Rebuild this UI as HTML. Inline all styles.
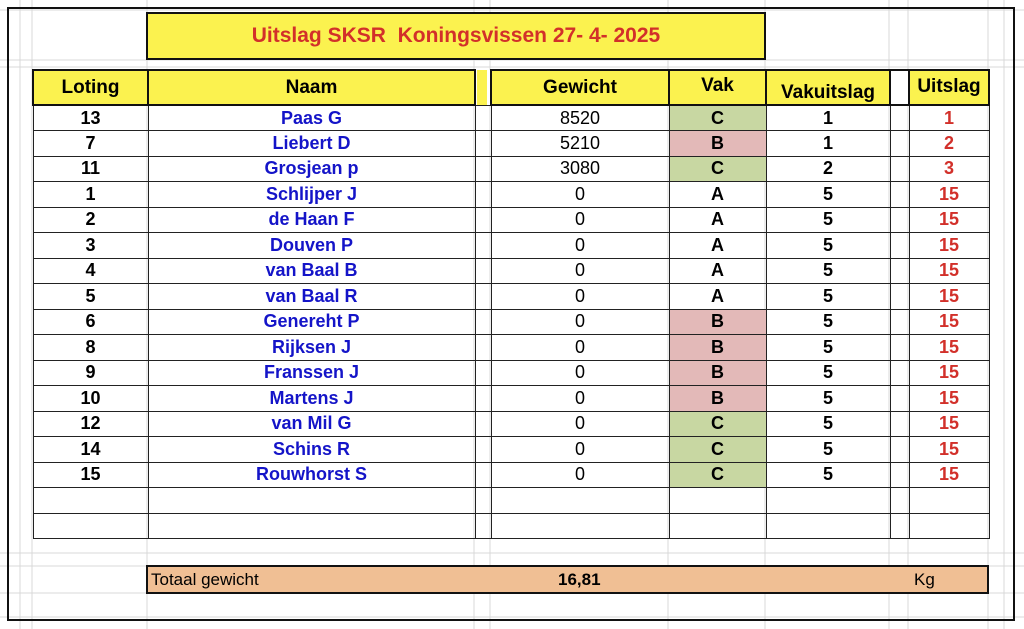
<!DOCTYPE html>
<html><head><meta charset="utf-8"><style>
*{margin:0;padding:0;box-sizing:border-box}
body{width:1024px;height:629px;background:#fff;position:relative;overflow:hidden;font-family:"Liberation Sans",Arial,sans-serif}
.bg{position:absolute;left:0;top:0;width:1024px;height:629px}
.frame{position:absolute;left:7px;top:7px;width:1008px;height:614px;border:2.5px solid #111}
.title{position:absolute;left:146px;top:12px;width:620px;height:48px;background:#fbf24f;border:2.5px solid #111;color:#d2302a;font-weight:bold;font-size:21px;text-align:center;line-height:44px}
table{position:absolute;left:32px;top:69px;border-collapse:collapse;table-layout:fixed;width:956px}
td{border:1px solid #222;height:25.5px;text-align:center;font-weight:bold;font-size:18px;padding:0;line-height:23px;white-space:nowrap}
tr.h td{height:35px;background:#fbf24f;border:2.5px solid #111;font-size:19px;line-height:22px;vertical-align:middle}
tr.h td span{position:relative}
tr.h td.g{background:#fff;border:1px solid #222;border-top:2.5px solid #111;border-bottom:2.5px solid #111}
tr.h td.g1{background:linear-gradient(90deg,#fff 0 1px,#fbf24f 1px 11px,#fff 11px);border-top:none;border-bottom:none}
.n{color:#1414c8}
.w{font-weight:normal}
.r{color:#d2302a}
.C{background:#c8d7a2}
.B{background:#e3b9b8}
.tot{position:absolute;left:146px;top:565px;width:843px;height:29px;background:#f0bf94;border:2.5px solid #111;font-size:17px;line-height:25px}
.tot span{position:absolute}
</style></head><body>
<svg class="bg" width="1024" height="629">
<g stroke="#d8d8d8" stroke-width="1">
<line x1="20" y1="0" x2="20" y2="629"/><line x1="32" y1="0" x2="32" y2="629"/><line x1="147" y1="0" x2="147" y2="629"/>
<line x1="474" y1="0" x2="474" y2="629"/><line x1="490" y1="0" x2="490" y2="629"/><line x1="668" y1="0" x2="668" y2="629"/>
<line x1="765" y1="0" x2="765" y2="629"/><line x1="889" y1="0" x2="889" y2="629"/><line x1="908" y1="0" x2="908" y2="629"/>
<line x1="988" y1="0" x2="988" y2="629"/><line x1="1004" y1="0" x2="1004" y2="629"/>
<line x1="0" y1="10" x2="1024" y2="10"/><line x1="0" y1="60" x2="1024" y2="60"/><line x1="0" y1="67" x2="1024" y2="67"/>
<line x1="0" y1="566" x2="1024" y2="566"/><line x1="0" y1="593" x2="1024" y2="593"/><line x1="0" y1="553" x2="1024" y2="553"/><line x1="0" y1="617" x2="1024" y2="617"/>
</g></svg>
<div class="frame"></div>
<div class="title">Uitslag SKSR&nbsp; Koningsvissen 27- 4- 2025</div>
<table>
<colgroup><col style="width:115px"><col style="width:327px"><col style="width:16px"><col style="width:178px"><col style="width:97px"><col style="width:124px"><col style="width:19px"><col style="width:80px"></colgroup>
<tr class="h"><td><span>Loting</span></td><td><span>Naam</span></td><td class="g g1"></td><td><span>Gewicht</span></td><td><span style="top:-2px">Vak</span></td><td><span style="top:5px">Vakuitslag</span></td><td class="g"></td><td><span style="top:-1px">Uitslag</span></td></tr>
<tr><td>13</td><td class="n">Paas G</td><td></td><td class="w">8520</td><td class="C">C</td><td>1</td><td></td><td class="r">1</td></tr>
<tr><td>7</td><td class="n">Liebert D</td><td></td><td class="w">5210</td><td class="B">B</td><td>1</td><td></td><td class="r">2</td></tr>
<tr><td>11</td><td class="n">Grosjean p</td><td></td><td class="w">3080</td><td class="C">C</td><td>2</td><td></td><td class="r">3</td></tr>
<tr><td>1</td><td class="n">Schlijper J</td><td></td><td class="w">0</td><td>A</td><td>5</td><td></td><td class="r">15</td></tr>
<tr><td>2</td><td class="n">de Haan F</td><td></td><td class="w">0</td><td>A</td><td>5</td><td></td><td class="r">15</td></tr>
<tr><td>3</td><td class="n">Douven P</td><td></td><td class="w">0</td><td>A</td><td>5</td><td></td><td class="r">15</td></tr>
<tr><td>4</td><td class="n">van Baal B</td><td></td><td class="w">0</td><td>A</td><td>5</td><td></td><td class="r">15</td></tr>
<tr><td>5</td><td class="n">van Baal R</td><td></td><td class="w">0</td><td>A</td><td>5</td><td></td><td class="r">15</td></tr>
<tr><td>6</td><td class="n">Genereht P</td><td></td><td class="w">0</td><td class="B">B</td><td>5</td><td></td><td class="r">15</td></tr>
<tr><td>8</td><td class="n">Rijksen J</td><td></td><td class="w">0</td><td class="B">B</td><td>5</td><td></td><td class="r">15</td></tr>
<tr><td>9</td><td class="n">Franssen J</td><td></td><td class="w">0</td><td class="B">B</td><td>5</td><td></td><td class="r">15</td></tr>
<tr><td>10</td><td class="n">Martens J</td><td></td><td class="w">0</td><td class="B">B</td><td>5</td><td></td><td class="r">15</td></tr>
<tr><td>12</td><td class="n">van Mil G</td><td></td><td class="w">0</td><td class="C">C</td><td>5</td><td></td><td class="r">15</td></tr>
<tr><td>14</td><td class="n">Schins R</td><td></td><td class="w">0</td><td class="C">C</td><td>5</td><td></td><td class="r">15</td></tr>
<tr><td>15</td><td class="n">Rouwhorst S</td><td></td><td class="w">0</td><td class="C">C</td><td>5</td><td></td><td class="r">15</td></tr>
<tr><td></td><td></td><td></td><td></td><td></td><td></td><td></td><td></td></tr>
<tr><td></td><td></td><td></td><td></td><td></td><td></td><td></td><td></td></tr>
</table>
<div class="tot"><span style="left:3px">Totaal gewicht</span><span style="left:410px;font-weight:bold">16,81</span><span style="left:766px">Kg</span></div>
</body></html>
